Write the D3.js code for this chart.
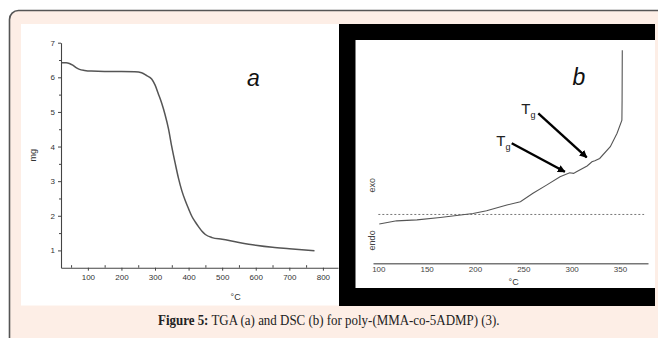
<!DOCTYPE html>
<html><head><meta charset="utf-8">
<script src="https://cdn.jsdelivr.net/npm/d3@7"></script>
<style>html,body{margin:0;padding:0;background:#fff;}svg{display:block;}</style>
</head><body>
<script>
// ---- TGA (a) data ----
const tgaTemp = [22, 35, 45, 55, 65, 75, 90, 110, 150, 200, 240, 260, 275, 290, 300, 310, 320, 330, 340, 350, 360, 370, 380, 390, 400, 410, 420, 430, 440, 450, 470, 500, 550, 600, 650, 700, 775];
const tgaMass = [6.42, 6.42, 6.40, 6.35, 6.28, 6.23, 6.20, 6.18, 6.17, 6.17, 6.16, 6.13, 6.05, 5.95, 5.78, 5.52, 5.25, 4.92, 4.52, 3.99, 3.52, 3.08, 2.72, 2.44, 2.20, 1.98, 1.82, 1.68, 1.55, 1.46, 1.37, 1.32, 1.23, 1.15, 1.09, 1.05, 0.99];
const tgaXTicks = [100, 200, 300, 400, 500, 600, 700, 800];
const tgaXMinor = [50, 150, 250, 350, 450, 550, 650, 750];
const tgaYTicks = [1, 2, 3, 4, 5, 6, 7];
const tgaYMinor = [1.5, 2.5, 3.5, 4.5, 5.5, 6.5];
// ---- DSC (b) data (arbitrary heat-flow units, 0 = dashed baseline) ----
const dscTemp = [101, 119, 140, 164, 198, 212, 233, 247, 260, 274, 288, 298, 302, 305, 316, 321, 324, 329, 340, 347, 352, 352.2, 352.4];
const dscFlow = [-0.48, -0.32, -0.27, -0.15, 0.05, 0.19, 0.47, 0.64, 1.06, 1.47, 1.89, 2.09, 2.06, 2.14, 2.43, 2.64, 2.69, 2.81, 3.4, 4.07, 4.73, 5.73, 8.24];
const dscXTicks = [100, 150, 200, 250, 300, 350];
// Tg annotations: [labelTemp, labelFlow, arrowStartTemp, arrowStartFlow, arrowEndTemp, arrowEndFlow]
const tgNotes = [
  [222, 3.42, 238, 3.57, 293, 2.14],
  [248, 5.02, 265.5, 5.07, 315.6, 2.86]
];
const caption = ["Figure 5:", " TGA (a) and DSC (b) for poly-(MMA-co-5ADMP) (3)."];

const W = 658, H = 338;
const svg = d3.select("body").append("svg").attr("width", W).attr("height", H);
const defs = svg.append("defs");
defs.append("marker").attr("id", "ah").attr("viewBox", "0 0 10 10").attr("refX", 9).attr("refY", 5)
  .attr("markerWidth", 3.2).attr("markerHeight", 3.2).attr("orient", "auto")
  .append("path").attr("d", "M0,0 L10,5 L0,10 z").attr("fill", "#000");

// background
svg.append("rect").attr("x", 0).attr("y", 0).attr("width", W).attr("height", H).attr("fill", "#ffffff");
svg.append("rect").attr("x", 9.5).attr("y", 10.5).attr("width", 670).attr("height", 350).attr("rx", 9)
  .attr("fill", "#fdeee6").attr("stroke", "#555").attr("stroke-width", 1.6);

// panels
svg.append("rect").attr("x", 21).attr("y", 24).attr("width", 318).attr("height", 281.5).attr("fill", "#fff");
svg.append("rect").attr("x", 339).attr("y", 24).attr("width", 316).attr("height", 282).attr("fill", "#000");
svg.append("rect").attr("x", 355.5).attr("y", 40).attr("width", 299.5).attr("height", 248).attr("fill", "#fff");

// ---- TGA chart ----
const tx = d3.scaleLinear().domain([20, 845]).range([61, 338]);
const ty = d3.scaleLinear().domain([0.5, 7]).range([267.7, 42.7]);
const gA = svg.append("g").attr("font-family", "Liberation Sans, Arial, sans-serif");

gA.append("g").attr("transform", `translate(0,${ty(0.5)})`)
  .call(d3.axisBottom(tx).tickValues(tgaXTicks).tickFormat(d3.format("d")).tickSize(3).tickPadding(4).tickSizeOuter(0));
gA.append("g").attr("transform", `translate(0,${ty(0.5)})`)
  .call(d3.axisBottom(tx).tickValues(tgaXMinor).tickSize(-2.5).tickFormat("").tickSizeOuter(0))
  .call(g => g.select(".domain").remove());
gA.append("g").attr("transform", `translate(${tx(20)},0)`)
  .call(d3.axisLeft(ty).tickValues(tgaYTicks).tickFormat(d3.format("d")).tickSize(3).tickPadding(3).tickSizeOuter(0));
gA.append("g").attr("transform", `translate(${tx(20)},0)`)
  .call(d3.axisLeft(ty).tickValues(tgaYMinor).tickSize(2).tickFormat("").tickSizeOuter(0))
  .call(g => g.select(".domain").remove());
gA.selectAll(".domain").attr("stroke", "#444").attr("stroke-width", 1.1);
gA.selectAll(".tick line").attr("stroke", "#444");
gA.selectAll(".tick text").attr("font-size", 8).attr("fill", "#333").attr("font-family", "Liberation Sans, Arial, sans-serif");

gA.append("path").datum(tgaTemp.map((t, i) => [t, tgaMass[i]]))
  .attr("fill", "none").attr("stroke", "#555").attr("stroke-width", 1.5)
  .attr("d", d3.line().x(d => tx(d[0])).y(d => ty(d[1])).curve(d3.curveMonotoneX));

gA.append("text").attr("transform", `translate(36,${ty(3.75)}) rotate(-90)`).attr("text-anchor", "middle")
  .attr("font-size", 9).attr("fill", "#333").text("mg");
gA.append("text").attr("x", tx(540)).attr("y", 300).attr("text-anchor", "middle")
  .attr("font-size", 9).attr("fill", "#333").text("°C");
gA.append("text").attr("x", tx(574)).attr("y", ty(5.75)).attr("font-size", 23).attr("font-style", "italic")
  .attr("fill", "#111").text("a");

// ---- DSC chart ----
const dx = d3.scaleLinear().domain([94.5, 379]).range([373, 648]);
const dy = d3.scaleLinear().domain([-2.45, 8.75]).range([263.3, 40]);
const gB = svg.append("g").attr("font-family", "Liberation Sans, Arial, sans-serif");

gB.append("line").attr("x1", dx(100)).attr("x2", dx(375)).attr("y1", dy(0)).attr("y2", dy(0))
  .attr("stroke", "#777").attr("stroke-width", 1).attr("stroke-dasharray", "2,2");

gB.append("g").attr("transform", `translate(0,${dy(-2.45)})`)
  .call(d3.axisBottom(dx).tickValues(dscXTicks).tickSize(0).tickPadding(3).tickSizeOuter(0))
  .call(g => g.select(".domain").attr("stroke", "#777").attr("stroke-width", 1.6))
  .call(g => g.selectAll(".tick text").attr("font-size", 8).attr("fill", "#444"));

gB.append("path").datum(dscTemp.map((t, i) => [t, dscFlow[i]]))
  .attr("fill", "none").attr("stroke", "#555").attr("stroke-width", 1.1)
  .attr("d", d3.line().x(d => dx(d[0])).y(d => dy(d[1])));

gB.append("text").attr("transform", `translate(375,${dy(1.47)}) rotate(-90)`).attr("text-anchor", "middle")
  .attr("font-size", 9).attr("fill", "#444").text("exo");
gB.append("text").attr("transform", `translate(375,${dy(-1.3)}) rotate(-90)`).attr("text-anchor", "middle")
  .attr("font-size", 9).attr("fill", "#444").text("endo");
gB.append("text").attr("x", dx(240)).attr("y", 285).attr("text-anchor", "middle")
  .attr("font-size", 9).attr("fill", "#333").text("°C");
gB.append("text").attr("x", dx(301)).attr("y", dy(6.49)).attr("font-size", 23).attr("font-style", "italic")
  .attr("fill", "#111").text("b");

tgNotes.forEach(n => {
  const t = gB.append("text").attr("x", dx(n[0])).attr("y", dy(n[1])).attr("font-size", 15).attr("fill", "#222");
  t.append("tspan").text("T");
  t.append("tspan").attr("font-size", 9).attr("dy", 4).text("g");
  gB.append("line").attr("x1", dx(n[2])).attr("y1", dy(n[3])).attr("x2", dx(n[4])).attr("y2", dy(n[5]))
    .attr("stroke", "#000").attr("stroke-width", 2.4).attr("marker-end", "url(#ah)");
});

// caption: one text element, horizontally condensed by a group transform to the reference width
const capG = svg.append("g");
const cap = capG.append("text").attr("x", 0).attr("y", 0)
  .attr("font-family", "Liberation Serif, Times New Roman, serif").attr("font-size", 15.5).attr("fill", "#222");
cap.append("tspan").attr("font-weight", "bold").text(caption[0]);
cap.append("tspan").text(caption[1]);
const capW = cap.node().getComputedTextLength();
const k = Math.min(1, 342 / capW);
capG.attr("transform", `translate(158,325) scale(${k},1)`);
</script>
</body></html>
